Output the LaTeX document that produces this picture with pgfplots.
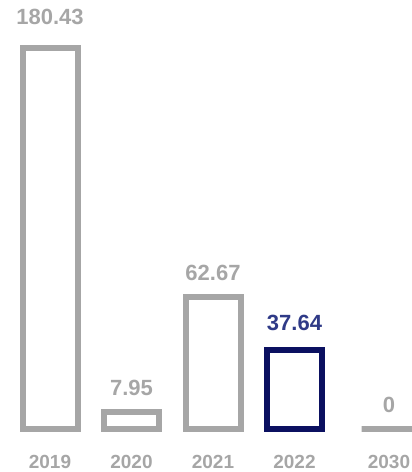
\documentclass[border=0pt]{standalone}
\usepackage{pgfplots}
\pgfplotsset{compat=1.18}
\usepackage{fontspec}
\setmainfont{Liberation Sans}
\definecolor{bargray}{HTML}{A6A6A6}
\definecolor{navybar}{HTML}{0B1060}
\definecolor{navytext}{HTML}{2F3A87}
\begin{document}
\begin{tikzpicture}
\begin{axis}[
  name=ax,
  scale only axis,
  width=412pt, height=472pt,
  xmin=0, xmax=412,
  ymin=-20.38, ymax=203.32,
  axis line style={draw=none},
  tick style={draw=none},
  ytick=\empty,
  xtick={50,131.5,213,294.5,389},
  xticklabels={2019,2020,2021,2022,2030},
  xticklabel style={anchor=base, yshift=8pt, font=\fontsize{19}{19}\selectfont\bfseries, text=bargray},
  ybar, bar width=55pt, bar shift=0pt,
  point meta=explicit symbolic,
  nodes near coords,
  every node near coord/.append style={anchor=base, font=\fontsize{22}{22}\selectfont\bfseries},
]
\addplot[draw=bargray, fill=white, line width=6pt, nodes near coords style={text=bargray, yshift=24pt}]
  coordinates {(50,180.43)[180.43]};
\addplot[draw=bargray, fill=white, line width=6pt, nodes near coords style={text=bargray, yshift=16.5pt}]
  coordinates {(131.5,7.95)[7.95] (213,62.67)[62.67] (389,0)[0]};
\addplot[draw=navybar, fill=white, line width=6pt, nodes near coords style={text=navytext, yshift=19.5pt}]
  coordinates {(294.5,37.64)[37.64]};
\end{axis}
\pgfresetboundingbox
\path (ax.south west) rectangle (ax.north east);
\end{tikzpicture}
\end{document}
